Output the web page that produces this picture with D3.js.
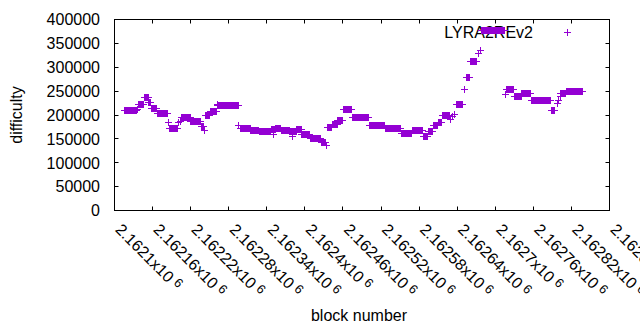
<!DOCTYPE html>
<html><head><meta charset="utf-8">
<script src="https://cdn.jsdelivr.net/npm/d3@7"></script>
<style>body{margin:0;background:#fff}svg{display:block}text{font-family:"Liberation Sans",Arial,sans-serif}</style>
</head><body>
<svg id="c" width="640" height="330"></svg>
<script>
// Runs of constant difficulty: first block, last block, difficulty
const runStart = [2162115,2162136,2162138,2162147,2162154,2162158,2162167,2162185,2162186,2162201,2162204,2162206,2162220,2162237,2162242,2162243,2162251,2162262,2162263,2162296,2162298,2162315,2162328,2162347,2162350,2162354,2162363,2162376,2162380,2162387,2162395,2162409,2162426,2162434,2162435,2162443,2162452,2162461,2162475,2162502,2162527,2162552,2162569,2162587,2162594,2162602,2162610,2162617,2162630,2162633,2162636,2162639,2162652,2162654,2162661,2162673,2162676,2162678,2162716,2162717,2162730,2162742,2162757,2162788,2162798,2162800,2162802,2162803,2162812];
const runEnd   = [2162135,2162136,2162145,2162153,2162156,2162166,2162184,2162185,2162200,2162201,2162204,2162219,2162236,2162241,2162242,2162250,2162261,2162262,2162295,2162296,2162314,2162327,2162346,2162353,2162350,2162362,2162375,2162386,2162380,2162394,2162408,2162425,2162433,2162434,2162442,2162451,2162460,2162474,2162501,2162526,2162551,2162568,2162586,2162593,2162601,2162609,2162616,2162628,2162630,2162633,2162636,2162649,2162652,2162660,2162671,2162673,2162676,2162715,2162716,2162729,2162741,2162756,2162787,2162794,2162798,2162800,2162802,2162811,2162837];
const runValue = [210000,212000,221000,237000,227000,214000,204000,184000,172000,184000,187000,194000,186000,176000,167000,198000,207000,223000,219000,177000,171000,167000,165000,169000,159000,172000,166700,165500,155000,169000,160000,150000,143000,136000,173500,181000,189000,211000,195000,178500,171500,162000,168000,155600,164500,177000,185000,199000,190000,196000,202000,222000,253500,278500,312000,328500,335000,376000,243700,253000,238500,245000,231000,208700,224000,231000,238000,245000,250000];

const xTicks = [2162100,2162160,2162220,2162280,2162340,2162400,2162460,2162520,2162580,2162640,2162700,2162760,2162820,2162880];
const xTickLabels = ["2.1621","2.16216","2.16222","2.16228","2.16234","2.1624","2.16246","2.16252","2.16258","2.16264","2.1627","2.16276","2.16282","2.16288"];
const yTicks = [0,50000,100000,150000,200000,250000,300000,350000,400000];
const seriesName = "LYRA2REv2";
const color = "#9400d3";

const L = 114.5, R = 609.5, T = 19.5, B = 210.5;
const x = d3.scaleLinear().domain([2162100, 2162880]).range([L, R]);
const y = d3.scaleLinear().domain([0, 400000]).range([B, T]);
const svg = d3.select("#c");
const fs = 16;
const snap = v => Math.round(v - 0.5) + 0.5;

// ticks (inward, mirrored)
const tk = 4;
const g = svg.append("g").attr("stroke", "#000").attr("stroke-width", 1).attr("fill", "none");
yTicks.forEach(v => {
  const yy = snap(y(v));
  g.append("path").attr("d", `M${L},${yy}h${tk}M${R},${yy}h${-tk}`);
});
xTicks.forEach(v => {
  const xx = snap(x(v));
  g.append("path").attr("d", `M${xx},${B}v${-tk}M${xx},${T}v${tk}`);
});
g.append("rect").attr("x", L).attr("y", T).attr("width", R - L).attr("height", B - T);

// y tick labels
svg.append("g").selectAll("text").data(yTicks).join("text")
  .attr("x", 100).attr("y", d => y(d)).attr("dy", "0.36em")
  .attr("text-anchor", "end").attr("font-size", fs).attr("fill", "#000")
  .text(d => d);

// x tick labels rotated
const xl = svg.append("g").selectAll("text").data(xTicks).join("text")
  .attr("transform", d => `translate(${x(d) + 4},${B + 16}) rotate(45)`)
  .attr("text-anchor", "start").attr("font-size", fs).attr("fill", "#000")
  .attr("dy", "0.36em");
xl.append("tspan").text((d, i) => xTickLabels[i] + "x10");
xl.append("tspan").attr("font-size", fs * 0.8).attr("dx", 4).attr("dy", -4).text("6");

// axis titles
svg.append("text").attr("x", 359).attr("y", 321).attr("text-anchor", "middle")
  .attr("font-size", fs).text("block number");
svg.append("text").attr("transform", "translate(22,115) rotate(-90)").attr("text-anchor", "middle")
  .attr("font-size", fs).text("difficulty");

// legend
svg.append("text").attr("x", 533).attr("y", 32).attr("dy", "0.36em").attr("text-anchor", "end")
  .attr("font-size", fs).text(seriesName);
const cross = (cx, cy) => {
  const a = snap(cx), b = snap(cy);
  return `M${a - 3.5},${b}H${a + 3.5}M${a},${b - 3.5}V${b + 3.5}`;
};
svg.append("path").attr("d", cross(567, 32.5)).attr("stroke", color).attr("stroke-width", 1).attr("fill", "none");

// points
const pts = [];
runStart.forEach((s, i) => {
  for (let b = s; b <= runEnd[i]; b++) pts.push({ b: b, v: runValue[i] });
});
svg.append("g").attr("stroke", color).attr("stroke-width", 1).attr("fill", "none")
  .selectAll("path").data(pts).join("path")
  .attr("d", d => cross(x(d.b), y(d.v)));
</script>
</body></html>
